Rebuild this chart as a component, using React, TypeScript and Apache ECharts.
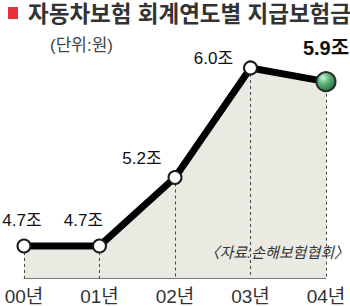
import React, { useEffect, useRef } from "react";
import * as echarts from "echarts";

const categories = ["00년", "01년", "02년", "03년", "04년"];
const values = [4.7, 4.7, 5.2, 6.0, 5.9];
const titleText = "자동차보험 회계연도별 지급보험금";
const unitText = "(단위:원)";
const sourceText = "〈자료:손해보험협회〉";

const Y_MIN = 4.466;
const Y_MAX = 6.131;
const FONT = "'Liberation Sans', Arial, 'Noto Sans CJK KR', sans-serif";
const labelOffsets: [number, number][] = [
  [-2, -4],
  [-16, -4],
  [-33, 2],
  [-37, 12],
  [0, -8],
];

export default function App() {
  const ref = useRef<HTMLDivElement>(null);
  useEffect(() => {
    if (!ref.current) return;
    const chart = echarts.init(ref.current, null, { renderer: "svg" });
    const last = values.length - 1;
    const data = values.map((v, i) => {
      const isLast = i === last;
      return {
        value: v,
        symbolSize: isLast ? 19 : 13,
        itemStyle: isLast
          ? {
              color: new echarts.graphic.RadialGradient(0.35, 0.3, 0.75, [
                { offset: 0, color: "#d8f2dc" },
                { offset: 0.35, color: "#6cc186" },
                { offset: 1, color: "#1f6b3a" },
              ]),
              borderColor: "#2a2a2a",
              borderWidth: 2,
            }
          : { color: "#ffffff", borderColor: "#1a1a1a", borderWidth: 2 },
        label: {
          offset: labelOffsets[i],
          fontSize: isLast ? 20 : 17,
          fontWeight: isLast ? "bold" : "normal",
        },
      };
    });
    chart.setOption({
      animation: false,
      grid: { left: 24, right: 24, top: 50, bottom: 28 },
      xAxis: {
        type: "category",
        data: categories,
        boundaryGap: false,
        axisLine: { lineStyle: { color: "#777", width: 1 } },
        axisTick: { show: false },
        axisLabel: { color: "#333", fontSize: 19, margin: 9, fontFamily: FONT },
        splitLine: { show: false },
      },
      yAxis: { type: "value", min: Y_MIN, max: Y_MAX, show: false, splitLine: { show: false } },
      graphic: [
        { type: "rect", z: 100, shape: { x: 8, y: 7, width: 10, height: 12 }, style: { fill: "#e8303a" } },
        {
          type: "text",
          z: 100,
          x: 28,
          y: 14,
          style: {
            text: titleText,
            fontSize: 22.5,
            fontWeight: "bold",
            fill: "#333",
            fontFamily: FONT,
            verticalAlign: "middle",
          },
        },
        {
          type: "text",
          z: 100,
          x: 50,
          y: 45,
          style: { text: unitText, fontSize: 17, fill: "#444", fontFamily: FONT, verticalAlign: "middle" },
        },
        {
          type: "text",
          z: 100,
          x: 349,
          y: 252,
          style: {
            text: sourceText,
            fontSize: 15,
            fontStyle: "italic",
            fill: "#333",
            fontFamily: FONT,
            align: "right",
            verticalAlign: "middle",
          },
        },
      ],
      series: [
        {
          type: "line",
          data: values,
          symbol: "none",
          lineStyle: { width: 0 },
          areaStyle: { color: "#ebeae2", opacity: 1, origin: "start" },
          z: 1,
          silent: true,
        },
        {
          type: "line",
          data: values,
          symbol: "none",
          lineStyle: { width: 0, opacity: 0 },
          z: 2,
          silent: true,
          markLine: {
            silent: true,
            symbol: "none",
            label: { show: false },
            lineStyle: { color: "#444", width: 1, type: [3, 3] },
            data: values.map((v, i) => [
              { coord: [i, v] },
              { coord: [i, Y_MIN] },
            ]),
          },
        },
        {
          type: "line",
          data,
          symbol: "circle",
          showAllSymbol: true,
          lineStyle: { color: "#000", width: 7 },
          label: {
            show: true,
            position: "top",
            color: "#111",
            fontFamily: FONT,
            formatter: (p: any) => Number(p.value).toFixed(1) + "조",
          },
          z: 5,
        },
      ],
    });
    return () => chart.dispose();
  }, []);
  return (
    <div
      ref={ref}
      style={{ position: "absolute", left: 0, top: 0, width: 350, height: 306, background: "#fff" }}
    />
  );
}
